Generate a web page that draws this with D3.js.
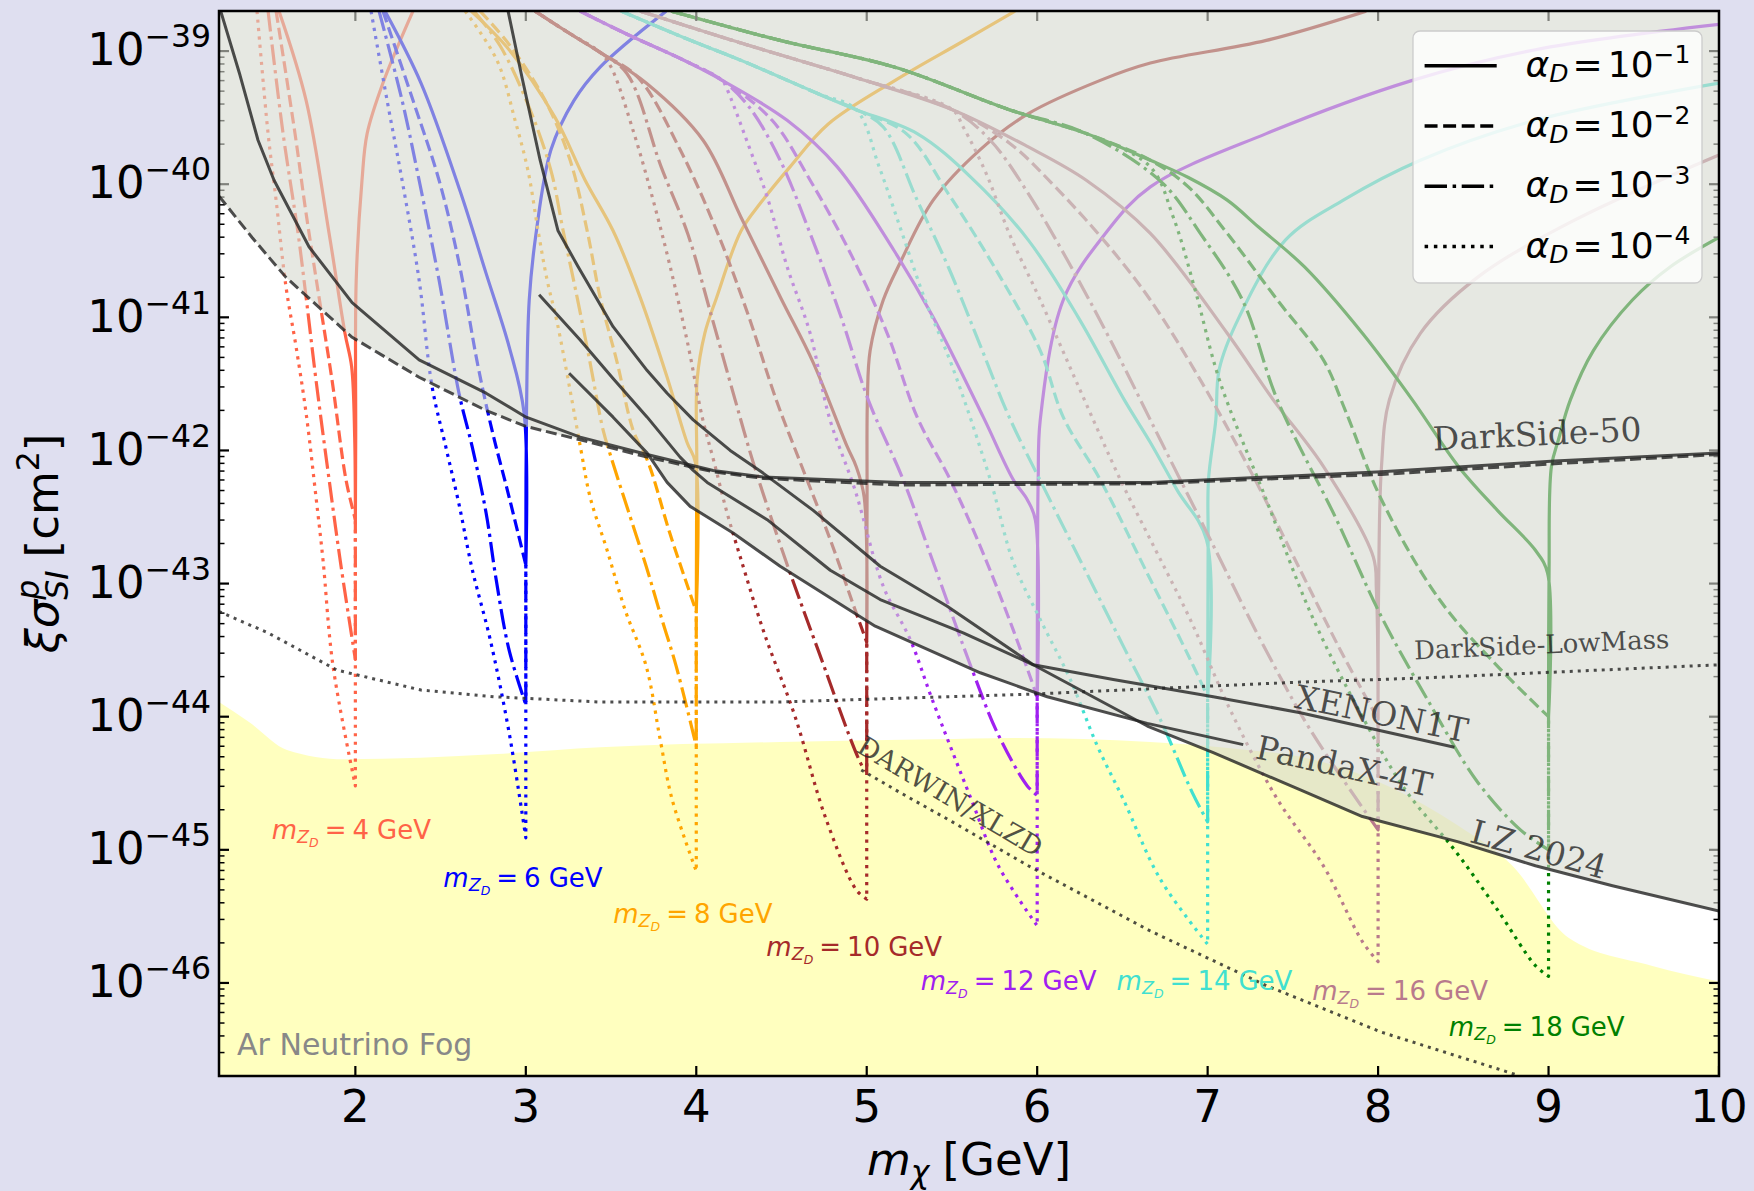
<!DOCTYPE html>
<html>
<head>
<meta charset="utf-8">
<script src="https://cdn.jsdelivr.net/npm/d3@7"></script>
<style>
  html, body { margin: 0; padding: 0; background: #dfdff0; }
  svg { display: block; }
</style>
</head>
<body>
<svg id="chart" width="1754" height="1191"></svg>
<script>
// ---------------------------------------------------------------
// Data: every point is [m_chi in GeV, log10(xi * sigma_SI^p / cm^2)]
// ---------------------------------------------------------------

// x-axis ticks and y-axis decades
const xTicks = [2, 3, 4, 5, 6, 7, 8, 9, 10];
const yDecades = [-46, -45, -44, -43, -42, -41, -40, -39];

// Dark photon masses (GeV) and the dark couplings shown
const zdMasses = [4, 6, 8, 10, 12, 14, 16, 18];
const alphaExponents = [-1, -2, -3, -4];

// --- experimental limits and projections ---
const ds50Solid = [[1.21,-38.70],[1.323,-39.18],[1.429,-39.67],[1.523,-39.97],[1.728,-40.47],[1.981,-40.89],[2.374,-41.32],[2.767,-41.57],[3.002,-41.75],[3.319,-41.90],[3.712,-42.03],[4.099,-42.15],[4.393,-42.20],[5.197,-42.24],[6.664,-42.24],[8.020,-42.16],[9.035,-42.08],[10.0,-42.02]];
const ds50Dashed = [[1.2,-40.09],[1.394,-40.40],[1.593,-40.70],[1.981,-41.15],[2.374,-41.45],[2.767,-41.70],[3.002,-41.82],[3.319,-41.92],[3.712,-42.05],[4.099,-42.16],[4.393,-42.21],[5.197,-42.26],[6.664,-42.25],[8.020,-42.18],[9.035,-42.10],[10.0,-42.03]];
const dsLowMass = [[1.2,-43.21],[1.487,-43.37],[1.892,-43.65],[2.385,-43.80],[2.813,-43.85],[3.436,-43.89],[4.492,-43.89],[5.977,-43.83],[6.664,-43.79],[7.544,-43.74],[8.248,-43.71],[10.0,-43.61]];
const xenon1t = [[3.078,-40.83],[3.319,-41.17],[3.512,-41.46],[3.712,-41.75],[3.905,-42.05],[3.982,-42.15],[4.064,-42.24],[4.416,-42.52],[4.786,-42.90],[5.079,-43.12],[5.566,-43.37],[5.977,-43.61],[6.446,-43.72],[7.033,-43.85],[7.544,-43.97],[8.448,-44.23]];
const pandax4t = [[3.254,-41.42],[3.512,-41.75],[3.712,-42.02],[3.829,-42.24],[3.964,-42.42],[4.216,-42.62],[4.492,-42.87],[5.05,-43.32],[5.666,-43.67],[6.059,-43.85],[6.646,-44.05],[7.209,-44.21]];
const lz2024 = [[2.896,-38.70],[2.978,-39.20],[3.084,-39.82],[3.189,-40.35],[3.307,-40.62],[3.512,-41.07],[3.712,-41.40],[3.829,-41.57],[3.982,-41.77],[4.199,-42.00],[4.392,-42.17],[4.686,-42.45],[5.079,-42.87],[5.472,-43.17],[5.977,-43.61],[6.646,-44.07],[7.033,-44.27],[7.544,-44.55],[7.908,-44.75],[8.471,-44.94],[8.923,-45.12],[9.375,-45.27],[10.0,-45.46]];
const darwinXlzd = [[4.968,-44.40],[5.196,-44.57],[5.502,-44.79],[5.948,-45.12],[6.664,-45.61],[7.344,-46.02],[8.020,-46.37],[8.812,-46.69]];
const argonFog = [[1.2,-43.89],[1.376,-44.04],[1.599,-44.25],[1.934,-44.32],[2.831,-44.28],[3.436,-44.23],[4.492,-44.19],[5.39,-44.17],[5.86,-44.16],[6.664,-44.19],[7.233,-44.25],[7.544,-44.30],[8.471,-44.82],[8.788,-45.12],[9.117,-45.66],[9.604,-45.87],[10.0,-45.99]];

// --- relic-density curves, one per (m_ZD, alpha_D) ---
const zd4_a1 = [[1.552,-38.70],[1.711,-39.37],[1.846,-40.37],[1.939,-41.12],[1.978,-41.37],[1.996,-41.9],[2.0,-42.52],[2.002,-41.9],[2.005,-40.72],[2.039,-39.97],[2.069,-39.62],[2.162,-39.24],[2.338,-38.70]];
const zd4_a2 = [[1.535,-38.70],[1.646,-39.62],[1.711,-40.22],[1.787,-40.85],[1.863,-41.47],[1.945,-42.22],[2.0,-42.52]];
const zd4_a3 = [[1.488,-38.70],[1.576,-39.62],[1.664,-40.37],[1.711,-40.85],[1.769,-41.47],[1.846,-42.22],[1.916,-42.87],[2.0,-43.57],[2.0,-42.52]];
const zd4_a4 = [[1.423,-38.70],[1.488,-39.62],[1.535,-40.12],[1.593,-40.77],[1.652,-41.22],[1.711,-41.72],[1.769,-42.35],[1.810,-42.82],[1.869,-43.62],[2.0,-44.52],[2.0,-42.52]];

const zd6_a1 = [[2.174,-38.70],[2.385,-39.24],[2.614,-40.05],[2.767,-40.67],[2.902,-41.22],[2.99,-41.72],[3.0,-42.86],[3.004,-41.72],[3.02,-40.87],[3.060,-40.37],[3.148,-39.74],[3.283,-39.37],[3.436,-39.12],[3.823,-38.70]];
const zd6_a2 = [[2.162,-38.70],[2.338,-39.37],[2.491,-39.97],[2.608,-40.59],[2.720,-41.37],[2.802,-41.85],[2.902,-42.35],[3.0,-42.86]];
const zd6_a3 = [[2.139,-38.70],[2.274,-39.37],[2.374,-39.97],[2.491,-40.72],[2.608,-41.57],[2.685,-41.97],[2.767,-42.47],[2.826,-42.97],[2.902,-43.50],[3.0,-43.91],[3.0,-42.86]];
const zd6_a4 = [[2.092,-38.70],[2.186,-39.37],[2.274,-39.97],[2.374,-40.72],[2.45,-41.52],[2.53,-41.97],[2.609,-42.41],[2.685,-42.89],[2.791,-43.42],[2.902,-44.12],[3.0,-44.91],[3.0,-42.86]];

const zd8_a1 = [[2.679,-38.70],[2.902,-38.99],[3.172,-39.50],[3.348,-39.97],[3.512,-40.35],[3.671,-40.85],[3.829,-41.45],[3.946,-41.94],[3.995,-42.09],[4.0,-43.21],[4.003,-42.09],[4.005,-41.47],[4.05,-41.12],[4.117,-40.86],[4.263,-40.35],[4.378,-40.14],[4.55,-39.87],[4.773,-39.55],[5.167,-39.22],[5.56,-38.93],[5.87,-38.70]];
const zd8_a2 = [[2.732,-38.70],[2.908,-38.96],[3.113,-39.37],[3.260,-39.82],[3.360,-40.35],[3.436,-40.85],[3.536,-41.34],[3.630,-41.85],[3.718,-42.09],[3.847,-42.63],[4.0,-43.21]];
const zd8_a3 = [[2.696,-38.70],[2.849,-38.96],[3.025,-39.44],[3.148,-39.90],[3.219,-40.35],[3.301,-40.85],[3.377,-41.34],[3.454,-41.85],[3.500,-42.05],[3.600,-42.45],[3.706,-42.87],[3.794,-43.25],[3.882,-43.62],[4.0,-44.22],[4.0,-43.21]];
const zd8_a4 = [[2.644,-38.70],[2.831,-39.07],[2.937,-39.52],[3.013,-39.90],[3.072,-40.35],[3.125,-40.72],[3.184,-41.04],[3.260,-41.55],[3.324,-42.00],[3.377,-42.35],[3.477,-42.75],[3.583,-43.20],[3.706,-43.62],[3.788,-44.17],[3.858,-44.62],[4.0,-45.16],[4.0,-43.21]];

const zd10_a1 = [[3.054,-38.70],[3.260,-38.87],[3.436,-39.01],[3.706,-39.24],[4.040,-39.67],[4.263,-40.25],[4.498,-40.86],[4.686,-41.34],[4.885,-41.97],[4.938,-42.12],[4.985,-42.35],[5.0,-43.44],[5.002,-42.35],[5.004,-41.62],[5.020,-41.25],[5.097,-40.87],[5.196,-40.59],[5.390,-40.12],[5.666,-39.74],[5.948,-39.47],[6.370,-39.22],[6.664,-39.09],[7.344,-38.92],[7.93,-38.70]];
const zd10_a2 = [[3.054,-38.70],[3.260,-38.87],[3.436,-39.01],[3.659,-39.20],[3.905,-39.74],[4.123,-40.36],[4.304,-40.98],[4.469,-41.62],[4.610,-42.09],[4.786,-42.67],[4.938,-43.22],[5.0,-43.44]];
const zd10_a3 = [[3.054,-38.70],[3.260,-38.87],[3.436,-39.01],[3.594,-39.17],[3.794,-39.87],[3.952,-40.38],[4.087,-40.98],[4.228,-41.62],[4.334,-42.09],[4.504,-42.75],[4.715,-43.50],[4.973,-44.37],[5.0,-44.41],[5.0,-43.44]];
const zd10_a4 = [[3.054,-38.70],[3.260,-38.87],[3.436,-39.01],[3.500,-39.12],[3.635,-39.62],[3.747,-40.12],[3.847,-40.62],[3.952,-41.21],[4.035,-41.75],[4.105,-42.09],[4.181,-42.47],[4.258,-42.80],[4.398,-43.37],[4.580,-44.00],[4.756,-44.75],[4.938,-45.30],[5.0,-45.37],[5.0,-43.44]];

const zd12_a1 = [[3.318,-38.70],[3.588,-38.87],[3.929,-39.07],[4.152,-39.22],[4.533,-39.52],[4.827,-39.87],[5.161,-40.50],[5.390,-41.00],[5.684,-41.75],[5.860,-42.22],[5.942,-42.37],[5.989,-42.52],[6.0,-43.85],[6.003,-42.55],[6.006,-42.22],[6.018,-41.77],[6.153,-40.87],[6.400,-40.37],[6.664,-40.02],[7.344,-39.62],[8.201,-39.22],[8.923,-38.99],[10.0,-38.80]];
const zd12_a2 = [[3.318,-38.70],[3.588,-38.87],[3.929,-39.07],[4.152,-39.22],[4.445,-39.52],[4.668,-39.97],[4.897,-40.50],[5.120,-41.12],[5.296,-41.75],[5.490,-42.22],[5.666,-42.72],[5.860,-43.35],[6.0,-43.85]];
const zd12_a3 = [[3.318,-38.70],[3.588,-38.87],[3.929,-39.07],[4.152,-39.22],[4.310,-39.42],[4.492,-39.82],[4.668,-40.37],[4.850,-41.00],[5.009,-41.62],[5.214,-42.22],[5.390,-42.84],[5.625,-43.67],[5.766,-44.12],[5.942,-44.52],[6.0,-44.59],[6.0,-43.85]];
const zd12_a4 = [[3.318,-38.70],[3.588,-38.87],[3.929,-39.07],[4.152,-39.22],[4.175,-39.27],[4.310,-39.72],[4.422,-40.12],[4.533,-40.62],[4.668,-41.12],[4.780,-41.75],[4.932,-42.30],[5.097,-43.02],[5.255,-43.42],[5.384,-43.87],[5.613,-44.62],[5.772,-45.12],[6.0,-45.57],[6.0,-43.85]];

const zd14_a1 = [[3.559,-38.70],[3.929,-38.90],[4.263,-39.07],[4.715,-39.32],[4.938,-39.44],[5.296,-39.62],[5.613,-39.95],[5.948,-40.42],[6.241,-41.00],[6.511,-41.62],[6.664,-41.94],[6.822,-42.30],[6.993,-42.67],[7.0,-43.85],[7.003,-42.67],[7.005,-42.22],[7.048,-41.77],[7.068,-41.39],[7.184,-41.00],[7.456,-40.42],[7.796,-40.12],[8.248,-39.82],[8.923,-39.52],[10.0,-39.24]];
const zd14_a2 = [[3.559,-38.70],[3.929,-38.90],[4.263,-39.07],[4.715,-39.32],[4.938,-39.44],[5.232,-39.62],[5.478,-40.07],[5.748,-40.62],[6.018,-41.25],[6.153,-41.75],[6.370,-42.22],[6.664,-42.97],[6.898,-43.57],[7.0,-43.85]];
const zd14_a3 = [[3.559,-38.70],[3.929,-38.90],[4.263,-39.07],[4.715,-39.32],[4.938,-39.44],[5.097,-39.57],[5.296,-40.12],[5.478,-40.62],[5.678,-41.25],[5.836,-41.75],[6.047,-42.30],[6.282,-42.90],[6.517,-43.50],[6.722,-44.02],[6.910,-44.57],[7.0,-44.79],[7.0,-43.85]];
const zd14_a4 = [[3.559,-38.70],[3.929,-38.90],[4.263,-39.07],[4.715,-39.32],[4.938,-39.44],[5.073,-39.87],[5.208,-40.37],[5.343,-40.87],[5.502,-41.37],[5.725,-42.22],[5.860,-42.84],[6.018,-43.27],[6.194,-43.72],[6.353,-44.22],[6.505,-44.62],[6.722,-45.22],[7.0,-45.71],[7.0,-43.85]];

const zd16_a1 = [[3.671,-38.70],[4.263,-38.94],[4.938,-39.20],[5.502,-39.44],[5.948,-39.72],[6.288,-39.97],[6.664,-40.37],[7.115,-41.12],[7.385,-41.62],[7.679,-42.12],[7.972,-42.80],[7.99,-43.05],[8.0,-44.02],[8.003,-43.05],[8.020,-42.12],[8.066,-41.62],[8.248,-41.12],[8.583,-40.70],[9.152,-40.27],[10.0,-39.78]];
const zd16_a2 = [[3.671,-38.70],[4.263,-38.94],[4.938,-39.20],[5.502,-39.44],[5.836,-39.69],[6.106,-40.02],[6.423,-40.47],[6.664,-40.87],[6.957,-41.47],[7.250,-42.15],[7.544,-42.90],[7.779,-43.50],[8.0,-44.02]];
const zd16_a3 = [[3.671,-38.70],[4.263,-38.94],[4.938,-39.20],[5.502,-39.44],[5.725,-39.67],[5.948,-40.07],[6.177,-40.57],[6.429,-41.17],[6.722,-41.92],[7.016,-42.67],[7.309,-43.42],[7.603,-44.10],[8.0,-44.85],[8.0,-44.02]];
const zd16_a4 = [[3.671,-38.70],[4.263,-38.94],[4.938,-39.20],[5.502,-39.44],[5.566,-39.57],[5.701,-39.92],[5.836,-40.37],[6.018,-40.87],[6.253,-41.55],[6.488,-42.22],[6.664,-42.67],[6.898,-43.27],[7.133,-43.95],[7.409,-44.62],[7.679,-45.12],[7.908,-45.69],[8.0,-45.84],[8.0,-44.02]];

const zd18_a1 = [[3.853,-38.70],[4.492,-38.92],[5.161,-39.12],[5.836,-39.44],[6.288,-39.62],[6.664,-39.82],[6.887,-39.95],[7.115,-40.12],[7.297,-40.32],[7.567,-40.62],[7.908,-41.12],[8.201,-41.62],[8.471,-42.12],[8.700,-42.45],[8.923,-42.75],[8.994,-42.92],[9.0,-44.0],[9.003,-42.92],[9.017,-42.12],[9.058,-41.92],[9.128,-41.62],[9.263,-41.25],[9.492,-40.87],[9.715,-40.62],[10.0,-40.40]];
const zd18_a2 = [[3.853,-38.70],[4.492,-38.92],[5.161,-39.12],[5.836,-39.44],[6.288,-39.62],[6.664,-39.82],[6.887,-40.02],[7.115,-40.37],[7.409,-40.87],[7.679,-41.32],[7.808,-41.70],[8.020,-42.37],[8.360,-43.12],[8.700,-43.62],[9.0,-44.0]];
const zd18_a3 = [[3.853,-38.70],[4.492,-38.92],[5.161,-39.12],[5.836,-39.44],[6.288,-39.62],[6.734,-39.99],[6.957,-40.37],[7.204,-40.87],[7.409,-41.62],[7.749,-42.50],[8.020,-43.25],[8.289,-43.87],[8.583,-44.49],[8.835,-44.85],[9.0,-45.0],[9.0,-44.0]];
const zd18_a4 = [[3.853,-38.70],[4.492,-38.92],[5.161,-39.12],[5.836,-39.44],[6.288,-39.62],[6.664,-39.87],[6.799,-40.25],[6.928,-40.80],[7.069,-41.47],[7.344,-42.37],[7.614,-43.25],[7.908,-44.00],[8.160,-44.55],[8.448,-45.00],[8.700,-45.45],[8.923,-45.87],[9.0,-45.95],[9.0,-44.0]];

// ---------------------------------------------------------------
// Tables assembled from the arrays above
// ---------------------------------------------------------------
const zdCurves = [
  [4, [zd4_a1, zd4_a2, zd4_a3, zd4_a4]],
  [6, [zd6_a1, zd6_a2, zd6_a3, zd6_a4]],
  [8, [zd8_a1, zd8_a2, zd8_a3, zd8_a4]],
  [10, [zd10_a1, zd10_a2, zd10_a3, zd10_a4]],
  [12, [zd12_a1, zd12_a2, zd12_a3, zd12_a4]],
  [14, [zd14_a1, zd14_a2, zd14_a3, zd14_a4]],
  [16, [zd16_a1, zd16_a2, zd16_a3, zd16_a4]],
  [18, [zd18_a1, zd18_a2, zd18_a3, zd18_a4]]
];
const exclusionLimits = [ds50Solid, ds50Dashed, xenon1t, pandax4t, lz2024];

// ---------------------------------------------------------------
// Styling and layout
// ---------------------------------------------------------------
const zdColor = {4:'#ff6347', 6:'#0000ff', 8:'#ffa500', 10:'#a52a2a', 12:'#a020f0', 14:'#40e0d0', 16:'#b87a8c', 18:'#008000'};
const lw = 3.2;
const dashFor = [null, `${3.7*lw},${1.6*lw}`, `${6.4*lw},${1.6*lw},${lw},${1.6*lw}`, `${lw},${1.65*lw}`];

// label anchors (data coordinates) for the m_ZD annotations
const zdLabelAt = {4:[1.509,-44.92], 6:[2.516,-45.28], 8:[3.513,-45.55], 10:[4.411,-45.80], 12:[5.317,-46.05], 14:[6.466,-46.05], 16:[7.613,-46.13], 18:[8.415,-46.40]};
const expLabels = [
  {text:'DarkSide-50', at:[8.324,-42.0], rot:-2.7, size:33},
  {text:'DarkSide-LowMass', at:[8.213,-43.57], rot:-2.6, size:26},
  {text:'XENON1T', at:[7.503,-43.93], rot:11.5, size:33},
  {text:'PandaX-4T', at:[7.274,-44.31], rot:12.5, size:33},
  {text:'LZ 2024', at:[8.530,-44.94], rot:15.5, size:33},
  {text:'DARWIN/XLZD', at:[4.932,-44.26], rot:30.5, size:27}
];

const W = 1754, H = 1191;
const plot = {left:219, right:1719, top:11, bottom:1076};
const x = d3.scaleLinear().domain([1.2, 10]).range([plot.left, plot.right]);
const y = d3.scaleLog().domain([2e-47, 2e-39]).range([plot.bottom, plot.top]);
const px = d => x(d[0]);
const py = d => y(Math.pow(10, d[1]));
const line = d3.line().x(px).y(py);
const smoothLine = d3.line().x(px).y(py).curve(d3.curveCatmullRom.alpha(0.5));

// smooth branches, but keep the resonance dip sharp
function relicPath(pts) {
  let iMin = 0;
  pts.forEach((d, i) => { if (d[1] < pts[iMin][1]) iMin = i; });
  const left = smoothLine(pts.slice(0, iMin + 1));
  const rest = pts.slice(iMin);
  if (rest.length < 2) return left;
  const right = rest.length > 3 ? smoothLine(rest) : line(rest);
  return left + right.replace(/^M/, 'L');
}

const svg = d3.select('#chart');
const FONT = "'DejaVu Sans', sans-serif";
const SERIF = "'DejaVu Serif', serif";

svg.append('defs').append('clipPath').attr('id', 'plotClip')
  .append('rect').attr('x', plot.left).attr('y', plot.top)
  .attr('width', plot.right - plot.left).attr('height', plot.bottom - plot.top);

svg.append('rect').attr('x', plot.left).attr('y', plot.top)
  .attr('width', plot.right - plot.left).attr('height', plot.bottom - plot.top)
  .attr('fill', '#ffffff');

const body = svg.append('g').attr('clip-path', 'url(#plotClip)');

// neutrino fog
const fogArea = d3.area().x(px).y0(plot.bottom + 5).y1(py).curve(d3.curveMonotoneX);
body.append('path').datum(argonFog).attr('d', fogArea)
  .attr('fill', '#ffff00').attr('fill-opacity', 0.25);

// relic curves
zdCurves.forEach(([mzd, set]) => {
  set.forEach((pts, i) => {
    body.append('path').attr('d', relicPath(pts))
      .attr('fill', 'none').attr('stroke', zdColor[mzd]).attr('stroke-width', lw)
      .attr('stroke-linejoin', 'round')
      .attr('stroke-dasharray', dashFor[i]);
  });
});

// ticks (drawn under the excluded-region shading)
const tickG = body.append('g').attr('stroke', '#000');
const minorY = [];
for (let k = -47; k <= -39; k++) for (let j = 2; j <= 9; j++) {
  const v = j * Math.pow(10, k);
  if (v > 2e-47 && v < 2e-39) minorY.push(v);
}
yDecades.forEach(k => {
  const yy = y(Math.pow(10, k));
  tickG.append('line').attr('x1', plot.left).attr('x2', plot.left + 10).attr('y1', yy).attr('y2', yy).attr('stroke-width', 2.2);
  tickG.append('line').attr('x1', plot.right - 10).attr('x2', plot.right).attr('y1', yy).attr('y2', yy).attr('stroke-width', 2.2);
});
minorY.forEach(v => {
  const yy = y(v);
  tickG.append('line').attr('x1', plot.left).attr('x2', plot.left + 5.5).attr('y1', yy).attr('y2', yy).attr('stroke-width', 1.5);
  tickG.append('line').attr('x1', plot.right - 5.5).attr('x2', plot.right).attr('y1', yy).attr('y2', yy).attr('stroke-width', 1.5);
});
xTicks.forEach(m => {
  const xx = x(m);
  tickG.append('line').attr('x1', xx).attr('x2', xx).attr('y1', plot.bottom).attr('y2', plot.bottom - 10).attr('stroke-width', 2.2);
  tickG.append('line').attr('x1', xx).attr('x2', xx).attr('y1', plot.top).attr('y2', plot.top + 10).attr('stroke-width', 2.2);
});

// excluded region: above the lowest of the current limits
function interp(arr, m) {
  if (m < arr[0][0] || m > arr[arr.length - 1][0]) return null;
  const i = d3.bisector(d => d[0]).left(arr, m);
  if (i === 0) return arr[0][1];
  const a = arr[i - 1], b = arr[i];
  const t = (m - a[0]) / (b[0] - a[0]);
  return a[1] + t * (b[1] - a[1]);
}
const grid = new Set(d3.range(1.2, 10.0001, 0.002).map(v => +v.toFixed(4)));
exclusionLimits.forEach(arr => arr.forEach(d => grid.add(d[0])));
const ms = Array.from(grid).sort((a, b) => a - b);
const envelope = [];
ms.forEach(m => {
  let lo = null;
  exclusionLimits.forEach(arr => {
    const v = interp(arr, m);
    if (v !== null && (lo === null || v < lo)) lo = v;
  });
  if (lo !== null) envelope.push([m, lo]);
});
const excluded = [[1.2, -38.4], ...envelope, [10.0, -38.4]];
body.append('path').datum(excluded)
  .attr('d', line)
  .attr('fill', '#d5d9cf').attr('fill-opacity', 0.6).attr('stroke', 'none');

// limit lines
const limitStroke = '#222222';
const limitLines = [
  [ds50Solid, null], [ds50Dashed, '11,4.8'], [dsLowMass, '3,5'],
  [xenon1t, null], [pandax4t, null], [lz2024, null], [darwinXlzd, '3,5']
];
limitLines.forEach(([pts, dash]) => {
  body.append('path').datum(pts).attr('d', line)
    .attr('fill', 'none').attr('stroke', limitStroke).attr('stroke-opacity', 0.8)
    .attr('stroke-width', 3).attr('stroke-linejoin', 'round')
    .attr('stroke-dasharray', dash);
});

// experiment names
expLabels.forEach(l => {
  svg.append('text')
    .attr('transform', `translate(${px(l.at)},${py(l.at)}) rotate(${l.rot})`)
    .attr('font-family', SERIF).attr('font-size', l.size)
    .attr('fill', '#222').attr('fill-opacity', 0.78)
    .text(l.text);
});

// small helper for mathtext-like labels built from runs
function mathLabel(parent, runs, opt) {
  const g = parent.append('g')
    .attr('transform', `translate(${opt.x},${opt.y}) rotate(${opt.rotate || 0})`);
  const inner = g.append('g');
  let cx = 0, prevStart = 0;
  runs.forEach(r => {
    if (r.sp !== undefined) { cx += r.sp; return; }
    const x0 = r.stack ? prevStart : cx;
    const t = inner.append('text')
      .attr('x', x0).attr('y', r.dy || 0)
      .attr('font-family', opt.family || FONT)
      .attr('font-size', r.size)
      .attr('font-style', r.it ? 'italic' : 'normal')
      .attr('fill', opt.fill || '#000')
      .text(r.t);
    const w = t.node().getComputedTextLength();
    if (r.stack) cx = Math.max(cx, x0 + w);
    else { prevStart = x0; cx = x0 + w; }
  });
  const shift = opt.anchor === 'middle' ? -cx / 2 : opt.anchor === 'end' ? -cx : 0;
  inner.attr('transform', `translate(${shift},0)`);
  return g;
}

// m_ZD annotations
zdMasses.forEach(mzd => {
  const at = zdLabelAt[mzd];
  mathLabel(svg, [
    {t:'m', it:true, size:26}, {t:'Z', it:true, size:17.5, dy:4}, {t:'D', it:true, size:12.5, dy:8},
    {sp:6}, {t:'=', size:26}, {sp:6}, {t:String(mzd), size:26}, {sp:8}, {t:'GeV', size:26}
  ], {x:px(at), y:py(at), fill:zdColor[mzd]});
});

// fog label
svg.append('text').attr('x', x(1.306)).attr('y', y(Math.pow(10, -46.54)))
  .attr('font-family', FONT).attr('font-size', 30).attr('fill', '#888888')
  .text('Ar Neutrino Fog');

// frame
svg.append('rect').attr('x', plot.left).attr('y', plot.top)
  .attr('width', plot.right - plot.left).attr('height', plot.bottom - plot.top)
  .attr('fill', 'none').attr('stroke', '#000').attr('stroke-width', 2.5);

// tick labels
xTicks.forEach(m => {
  svg.append('text').attr('x', x(m)).attr('y', 1122).attr('text-anchor', 'middle')
    .attr('font-family', FONT).attr('font-size', 45).attr('fill', '#000').text(String(m));
});
yDecades.forEach(k => {
  mathLabel(svg, [{t:'10', size:45}, {t:'\u2212' + String(-k), size:31.5, dy:-18}],
    {x:211, y:y(Math.pow(10, k)) + 14.3, anchor:'end'});
});

// axis titles
mathLabel(svg, [
  {t:'m', it:true, size:45}, {t:'\u03c7', it:true, size:31.5, dy:8}, {sp:13}, {t:'[GeV]', size:45}
], {x:(plot.left + plot.right) / 2, y:1175, anchor:'middle'});

mathLabel(svg, [
  {t:'\u03be', it:true, size:45}, {t:'\u03c3', it:true, size:45},
  {t:'p', it:true, size:31.5, dy:-19}, {t:'SI', it:true, size:31.5, dy:10, stack:true},
  {sp:13}, {t:'[cm', size:45}, {t:'2', size:31.5, dy:-19}, {t:']', size:45}
], {x:58, y:(plot.top + plot.bottom) / 2, anchor:'middle', rotate:-90});

// legend
const leg = svg.append('g');
leg.append('rect').attr('x', 1413).attr('y', 31).attr('width', 289).attr('height', 252)
  .attr('rx', 7).attr('fill', '#ffffff').attr('fill-opacity', 0.8)
  .attr('stroke', '#cccccc').attr('stroke-width', 1.3);
const legLw = 3.5;
const legDash = [null, `${3.7*legLw},${1.6*legLw}`, `${6.4*legLw},${1.6*legLw},${legLw},${1.6*legLw}`, `${legLw},${1.65*legLw}`];
alphaExponents.forEach((ex, i) => {
  const base = 76.7 + i * 60.3;
  leg.append('line').attr('x1', 1424.6).attr('x2', 1496.7).attr('y1', base - 11).attr('y2', base - 11)
    .attr('stroke', '#000').attr('stroke-width', legLw).attr('stroke-dasharray', legDash[i]);
  mathLabel(leg, [
    {t:'\u03b1', it:true, size:36}, {t:'D', it:true, size:25, dy:5.5}, {sp:4},
    {t:'=', size:36}, {sp:5}, {t:'10', size:36}, {t:'\u2212' + String(-ex), size:25, dy:-13.5}
  ], {x:1525.6, y:base});
});
</script>
</body>
</html>
